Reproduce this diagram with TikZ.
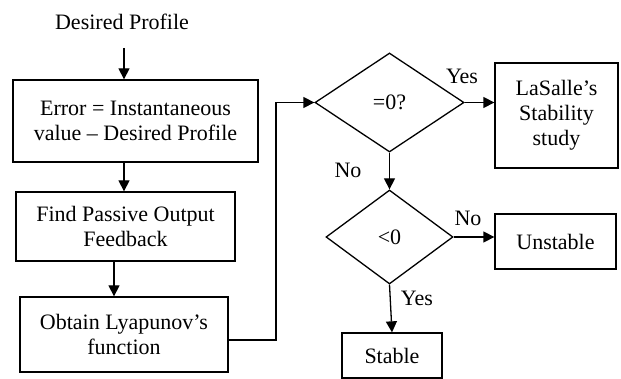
\documentclass[tikz,border=0pt]{standalone}
\usepackage{fontspec}
\setmainfont{Liberation Serif}
\usetikzlibrary{arrows.meta,shapes.geometric}
\begin{document}
\begin{tikzpicture}[x=1pt,y=-1pt,
  every node/.style={font=\fontsize{22}{25}\selectfont},
  box/.style={draw,line width=1.3pt,inner sep=0pt,align=center},
  dia/.style={draw,diamond,line width=1.3pt,inner sep=0pt},
  arr/.style={line width=1.3pt,-{Triangle[length=11pt,width=11pt]}},
  lbl/.style={inner sep=0pt}]
\useasboundingbox (0,0) rectangle (621,379);
\node[lbl] (dp) at (122,22) {Desired Profile};
\node[box,minimum width=245pt,minimum height=82pt] (b1) at (135.5,121) {Error = Instantaneous\\value -- Desired Profile};
\node[box,minimum width=219pt,minimum height=69pt] (b2) at (125.5,226.5) {Find Passive Output\\Feedback};
\node[box,minimum width=208pt,minimum height=75pt] (b3) at (124,334.5) {Obtain Lyapunov’s\\function};
\node[dia,minimum width=149pt,minimum height=99pt] (d1) at (389.5,102.5) {=0?};
\node[box,minimum width=123pt,minimum height=105pt] (ls) at (556.5,115.5) {LaSalle’s\\Stability\\study};
\node[dia,minimum width=127pt,minimum height=94pt] (d2) at (389.5,237) {<0};
\node[box,minimum width=121pt,minimum height=55pt] (un) at (555.5,241.5) {Unstable};
\node[box,minimum width=100pt,minimum height=45pt] (st) at (392,355.5) {Stable};
\coordinate (a0) at (124,48);
\coordinate (x1) at (124,0);
\coordinate (x2) at (114,0);
\coordinate (turnA) at (276,340);
\draw[arr] (a0) -- (a0 |- b1.north);
\draw[arr] (x1 |- b1.south) -- (x1 |- b2.north);
\draw[arr] (x2 |- b2.south) -- (x2 |- b3.north);
\draw[arr] (b3.east |- turnA) -- (turnA) -- (turnA |- d1.west) -- (d1.west);
\draw[arr] (d1.east) -- (d1.east -| ls.west);
\draw[arr] (d1.south) -- (d2.north);
\draw[arr] (d2.east) -- (d2.east -| un.west);
\draw[arr] (d2.south) -- (st.north);
\node[lbl] (y1) at (462,76) {Yes};
\node[lbl] (n1) at (348,170) {No};
\node[lbl] (n2) at (468,218) {No};
\node[lbl] (y2) at (417,298) {Yes};
\end{tikzpicture}
\end{document}
